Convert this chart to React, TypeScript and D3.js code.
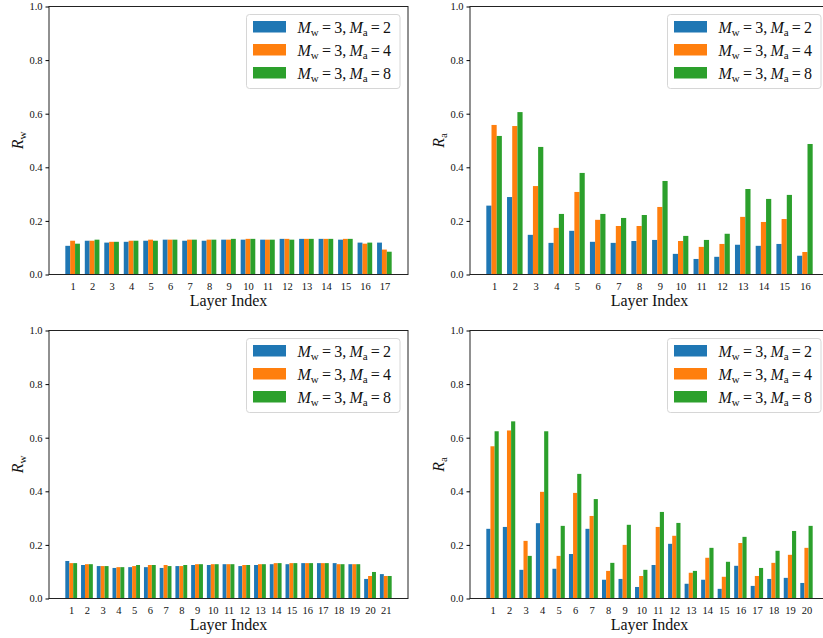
import React, { useRef, useEffect } from 'react'
import * as d3 from 'd3'

const seriesNames = ['2', '4', '8']
const colors = ['#1f77b4', '#ff7f0e', '#2ca02c']
const yTicks = [0, 0.2, 0.4, 0.6, 0.8, 1.0]

// top left: R_w, 17 layers
const rwTopM2 = [0.107, 0.126, 0.119, 0.122, 0.126, 0.130, 0.126, 0.126, 0.130, 0.130, 0.130, 0.133, 0.133, 0.133, 0.130, 0.119, 0.119]
const rwTopM4 = [0.126, 0.126, 0.122, 0.126, 0.130, 0.130, 0.130, 0.130, 0.130, 0.133, 0.130, 0.133, 0.133, 0.133, 0.133, 0.115, 0.093]
const rwTopM8 = [0.115, 0.130, 0.122, 0.126, 0.126, 0.130, 0.130, 0.130, 0.133, 0.133, 0.130, 0.130, 0.133, 0.133, 0.133, 0.119, 0.085]

// top right: R_a, 16 layers
const raTopM2 = [0.257, 0.289, 0.148, 0.118, 0.163, 0.122, 0.118, 0.125, 0.129, 0.077, 0.058, 0.066, 0.111, 0.107, 0.114, 0.070]
const raTopM4 = [0.558, 0.554, 0.330, 0.174, 0.308, 0.204, 0.181, 0.181, 0.252, 0.125, 0.103, 0.114, 0.215, 0.196, 0.207, 0.084]
const raTopM8 = [0.517, 0.606, 0.476, 0.226, 0.379, 0.226, 0.211, 0.222, 0.349, 0.144, 0.129, 0.152, 0.319, 0.282, 0.297, 0.487]

// bottom left: R_w, 21 layers
const rwBotM2 = [0.140, 0.125, 0.121, 0.114, 0.117, 0.117, 0.114, 0.121, 0.125, 0.125, 0.128, 0.121, 0.125, 0.128, 0.128, 0.132, 0.132, 0.132, 0.128, 0.073, 0.091]
const rwBotM4 = [0.132, 0.128, 0.121, 0.117, 0.121, 0.125, 0.125, 0.121, 0.128, 0.128, 0.128, 0.125, 0.128, 0.132, 0.132, 0.132, 0.132, 0.128, 0.128, 0.084, 0.084]
const rwBotM8 = [0.132, 0.128, 0.121, 0.117, 0.125, 0.125, 0.121, 0.125, 0.128, 0.128, 0.128, 0.125, 0.128, 0.132, 0.132, 0.132, 0.132, 0.128, 0.128, 0.099, 0.084]

// bottom right: R_a, 20 layers
const raBotM2 = [0.260, 0.267, 0.107, 0.281, 0.111, 0.166, 0.260, 0.070, 0.073, 0.043, 0.125, 0.204, 0.055, 0.070, 0.036, 0.122, 0.047, 0.073, 0.077, 0.058]
const raBotM4 = [0.568, 0.627, 0.215, 0.398, 0.159, 0.394, 0.308, 0.103, 0.200, 0.084, 0.267, 0.234, 0.096, 0.152, 0.081, 0.207, 0.084, 0.133, 0.163, 0.189]
const raBotM8 = [0.624, 0.661, 0.159, 0.624, 0.271, 0.465, 0.371, 0.133, 0.275, 0.107, 0.323, 0.282, 0.103, 0.189, 0.137, 0.230, 0.114, 0.178, 0.252, 0.271]

const panels = [
  { left: 49, top: 6.5, sub: 'w', series: [rwTopM2, rwTopM4, rwTopM8] },
  { left: 470, top: 6.5, sub: 'a', series: [raTopM2, raTopM4, raTopM8] },
  { left: 49, top: 330.5, sub: 'w', series: [rwBotM2, rwBotM4, rwBotM8] },
  { left: 470, top: 330.5, sub: 'a', series: [raBotM2, raBotM4, raBotM8] },
]

const W = 359
const H = 268
const barW = 0.25
const font = '"Liberation Serif", "Times New Roman", serif'

const App = () => {
  const ref = useRef<SVGSVGElement>(null)

  useEffect(() => {
    const svg = d3.select(ref.current)
    svg.selectAll('*').remove()

    panels.forEach(p => {
      const n = p.series[0].length
      const pad = 0.05 * (n - 1 + 3 * barW)
      const x = d3.scaleLinear()
        .domain([1 - 1.5 * barW - pad, n + 1.5 * barW + pad])
        .range([0, W])
      const y = d3.scaleLinear().domain([0, 1]).range([H, 0])

      const g = svg.append('g')
        .attr('transform', `translate(${p.left},${p.top})`)

      // bars
      p.series.forEach((vals, k) => {
        g.selectAll(null).data(vals).enter().append('rect')
          .attr('x', (d, i) => x(i + 1 + (k - 1) * barW - barW / 2))
          .attr('width', x(barW) - x(0))
          .attr('y', d => y(d))
          .attr('height', d => H - y(d))
          .attr('fill', colors[k])
      })

      // frame
      g.append('rect')
        .attr('x', 0).attr('y', 0).attr('width', W).attr('height', H)
        .attr('fill', 'none').attr('stroke', '#222').attr('stroke-width', 1)

      // y axis
      const yAxis = d3.axisLeft(y).tickValues(yTicks).tickSize(3.5).tickPadding(3)
        .tickFormat(d3.format('.1f'))
      const yG = g.append('g').call(yAxis)
        .attr('font-family', font).attr('font-size', 10.5)
      yG.select('.domain').remove()
      yG.selectAll('text').attr('font-family', font).attr('fill', '#111')

      // x axis
      const xAxis = d3.axisBottom(x).tickValues(d3.range(1, n + 1)).tickSize(0).tickPadding(8)
        .tickFormat(d3.format('d'))
      const xG = g.append('g').attr('transform', `translate(0,${H})`).call(xAxis)
        .attr('font-family', font).attr('font-size', 10.5)
      xG.select('.domain').remove()
      xG.selectAll('text').attr('font-family', font).attr('fill', '#111')

      g.append('text')
        .attr('x', W / 2).attr('y', H + 31.5)
        .attr('text-anchor', 'middle')
        .attr('font-family', font).attr('font-size', 16).attr('fill', '#111')
        .text('Layer Index')

      // y label
      const yl = g.append('text')
        .attr('transform', `translate(-26,${H / 2}) rotate(-90)`)
        .attr('text-anchor', 'middle')
        .attr('font-family', font).attr('font-size', 16).attr('fill', '#111')
      yl.append('tspan').attr('font-style', 'italic').text('R')
      yl.append('tspan').attr('font-size', 11).attr('dy', 3).text(p.sub)

      // legend
      const lg = g.append('g').attr('transform', `translate(${W - 161.5},8)`)
      lg.append('rect')
        .attr('width', 153.5).attr('height', 74).attr('rx', 3)
        .attr('fill', 'white').attr('fill-opacity', 0.8)
        .attr('stroke', '#d6d6d6').attr('stroke-width', 1)
      seriesNames.forEach((m, k) => {
        const row = lg.append('g').attr('transform', `translate(0,${12.5 + k * 23})`)
        row.append('rect')
          .attr('x', 6.5).attr('y', -6).attr('width', 33).attr('height', 11.5)
          .attr('fill', colors[k])
        const t = row.append('text')
          .attr('x', 51).attr('y', 5.5)
          .attr('font-family', font).attr('font-size', 16).attr('fill', '#111')
        t.append('tspan').attr('font-style', 'italic').text('M')
        t.append('tspan').attr('font-size', 11).attr('dy', 3).text('w')
        t.append('tspan').attr('dy', -3).text('\u2009=\u20093,\u2009')
        t.append('tspan').attr('font-style', 'italic').text('M')
        t.append('tspan').attr('font-size', 11).attr('dy', 3).text('a')
        t.append('tspan').attr('dy', -3).text(`\u2009=\u2009${m}`)
      })
    })
  }, [])

  return (
    <div>
      <svg ref={ref} width={823} height={638}
        style={{ position: 'absolute', left: 0, top: 0, background: 'white' }} />
    </div>
  )
}

export default App
